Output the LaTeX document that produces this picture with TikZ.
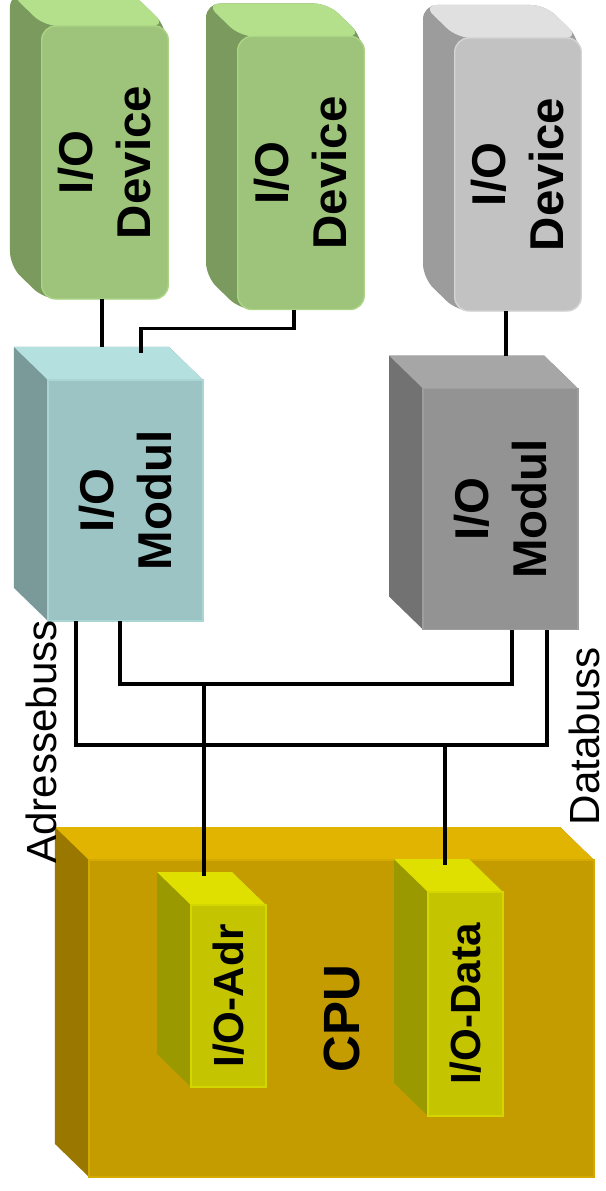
\documentclass[tikz,border=0pt]{standalone}
\usepackage{fontspec}
\setmainfont{Liberation Sans}
\usetikzlibrary{calc}

\definecolor{greenfront}{HTML}{9DC47A}
\definecolor{greentop}{HTML}{B4E08C}
\definecolor{greenside}{HTML}{7A9A5E}
\definecolor{lightfront}{HTML}{C2C2C2}
\definecolor{lighttop}{HTML}{E0E0E0}
\definecolor{lightside}{HTML}{9C9C9C}
\definecolor{tealfront}{HTML}{9CC4C4}
\definecolor{tealtop}{HTML}{B4E0E0}
\definecolor{tealside}{HTML}{7A9A9A}
\definecolor{darkfront}{HTML}{939393}
\definecolor{darktop}{HTML}{A6A6A6}
\definecolor{darkside}{HTML}{727272}
\definecolor{cpufront}{HTML}{C49C00}
\definecolor{cputop}{HTML}{E0B400}
\definecolor{cpuside}{HTML}{9A7800}
\definecolor{regfront}{HTML}{C4C400}
\definecolor{regtop}{HTML}{E0E000}
\definecolor{regside}{HTML}{9A9A00}

% text turned to run upwards
\newcommand{\vtext}[1]{\kern6pt\rotatebox{90}{\begin{tabular}{@{}c@{}}#1\end{tabular}}}
% side and top of a block, from its back face
\newcommand{\extrude}[2]{%
  \fill[#2 side] (#1.north west) -- (#1.north east) -- ++(34,33)
    -- ($(#1.south east)+(34,33)$) -- ($(#1.south west)+(34,33)$)
    -- (#1.south west) -- cycle;
  \fill[#2 top] (#1.north west) -- (#1.north east) -- ++(34,33)
    -- ($(#1.north west)+(34,33)$) -- cycle;
}

\begin{document}
\begin{tikzpicture}[x=0.2mm,y=-0.2mm,
    face/.style={rectangle,inner sep=0pt,outer sep=0pt},
    dev/.style={face,minimum width=24.4mm,minimum height=54.6mm,rounded corners=8pt},
    mod/.style={face,minimum width=31mm,minimum height=48.2mm},
    reg/.style={face,minimum width=15mm},
    big/.style={font=\bfseries\fontsize{27}{33}\selectfont},
    bus/.style={line width=2pt},
    buslabel/.style={rotate=90,font=\fontsize{24}{28}\selectfont},
    green side/.style={fill=greenside,rounded corners=8pt},
    green top/.style={fill=greentop,rounded corners=8pt},
    green front/.style={fill=greenfront,draw=greentop!60!greenfront,line width=0.8pt},
    light side/.style={fill=lightside,rounded corners=8pt},
    light top/.style={fill=lighttop,rounded corners=8pt},
    light front/.style={fill=lightfront,draw=lighttop!60!lightfront,line width=0.8pt},
    teal side/.style={fill=tealside},
    teal top/.style={fill=tealtop},
    teal front/.style={fill=tealfront,draw=tealtop!60!tealfront,line width=0.8pt},
    dark side/.style={fill=darkside},
    dark top/.style={fill=darktop},
    dark front/.style={fill=darkfront,draw=darktop!60!darkfront,line width=0.8pt},
    cpu side/.style={fill=cpuside},
    cpu top/.style={fill=cputop},
    cpu front/.style={fill=cpufront,draw=cputop!60!cpufront,line width=0.8pt},
    reg side/.style={fill=regside},
    reg top/.style={fill=regtop},
    reg front/.style={fill=regfront,draw=regtop!60!regfront,line width=0.8pt}]
  \useasboundingbox (0,0) rectangle (606,1191);

  % devices
  \node[dev] (dev1b) at (71,129.5) {};
  \extrude{dev1b}{green}
  \node[dev,green front,big] (dev1) at ($(dev1b)+(34,33)$) {\vtext{I/O\\Device}};
  \node[dev] (dev2b) at (267,140) {};
  \extrude{dev2b}{green}
  \node[dev,green front,big] (dev2) at ($(dev2b)+(34,33)$) {\vtext{I/O\\Device}};
  \node[dev] (dev3b) at (484,141.5) {};
  \extrude{dev3b}{light}
  \node[dev,light front,big] (dev3) at ($(dev3b)+(34,33)$) {\vtext{I/O\\Device}};

  % modules
  \node[mod] (mod1b) at (91.5,467.5) {};
  \extrude{mod1b}{teal}
  \node[mod,teal front,big] (mod1) at ($(mod1b)+(34,33)$) {\vtext{I/O\\Modul}};
  \node[mod] (mod2b) at (466.5,476) {};
  \extrude{mod2b}{dark}
  \node[mod,dark front,big] (mod2) at ($(mod2b)+(34,33)$) {\vtext{I/O\\Modul}};

  % CPU with its two registers
  \node[face,minimum width=101mm,minimum height=63.4mm] (cpub) at (307.5,985.5) {};
  \extrude{cpub}{cpu}
  \node[face,minimum width=101mm,minimum height=63.4mm,cpu front,
    font=\bfseries\fontsize{29}{35}\selectfont] (cpu) at ($(cpub)+(34,33)$) {\vtext{CPU}};
  \node[reg,minimum height=36.4mm] (adrb) at (194.5,963) {};
  \extrude{adrb}{reg}
  \node[reg,minimum height=36.4mm,reg front,font=\bfseries\fontsize{24}{29}\selectfont]
    (adr) at ($(adrb)+(34,33)$) {\vtext{I/O-Adr}};
  \node[reg,minimum height=44.8mm] (datb) at (431.5,971) {};
  \extrude{datb}{reg}
  \node[reg,minimum height=44.8mm,reg front,font=\bfseries\fontsize{24}{29}\selectfont]
    (dat) at ($(datb)+(34,33)$) {\vtext{I/O-Data}};

  % device lines
  \coordinate (d1) at ([shift={(-3,0)}]dev1.south);
  \coordinate (d2) at ([shift={(-7,0)}]dev2.south);
  \coordinate (d3) at ([shift={(-12,0)}]dev3.south);
  \coordinate (m1in) at ([shift={(49.5,6)}]mod1b.north);
  \draw[bus] (d1) -- (d1 |- mod1b.north);
  \draw[bus] (d2) -- ++(0,19) -| (m1in);
  \draw[bus] (d3) -- (d3 |- mod2b.north);

  % address and data bus
  \coordinate (m1d) at ([shift={(28,0)}]mod1.south west);
  \coordinate (m1a) at ([shift={(72,0)}]mod1.south west);
  \coordinate (m2a) at ([shift={(-66,0)}]mod2.south east);
  \coordinate (m2d) at ([shift={(-31,0)}]mod2.south east);
  \coordinate (abus) at (204,684);
  \coordinate (dbus) at (445,745);
  \draw[bus] (m1a) |- (abus) -| (m2a);
  \draw[bus] (m1d) |- (dbus) -| (m2d);
  \draw[bus] (abus) -- ([shift={(0,4)}]abus |- adrb.north);
  \draw[bus] (dbus) -- ([shift={(0,6)}]dbus |- datb.north);

  \node[buslabel] (alabel) at (41.5,742) {Adressebuss};
  \node[buslabel] (dlabel) at (584,736) {Databuss};
\end{tikzpicture}
\end{document}
